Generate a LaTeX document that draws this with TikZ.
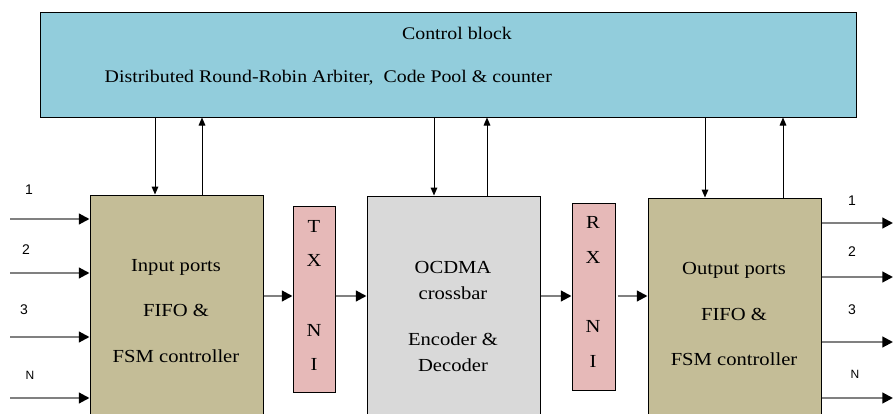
\documentclass[tikz,border=0pt]{standalone}
\usepackage{fontspec}
\setmainfont[FakeStretch=1.12]{Liberation Serif}
\newfontfamily\labelfont{Liberation Sans}
\usetikzlibrary{arrows.meta, positioning, calc}
\definecolor{ctrlblue}{HTML}{92CDDC}
\definecolor{portkhaki}{HTML}{C4BD97}
\definecolor{nipink}{HTML}{E6B9B8}
\definecolor{xbargray}{HTML}{D9D9D9}
\definecolor{wiregray}{HTML}{808080}

\tikzset{
  blockbox/.style={draw=black, line width=0.75pt, inner sep=0pt},
  boxtext/.style={align=center, font=\fontsize{13.8}{14}\selectfont},
  ctl/.style={draw=black, line width=0.75pt, -{Triangle[length=6pt,width=5pt]}},
  wire/.style={draw=wiregray, line width=1.6pt, -{Triangle[length=8pt,width=8pt,color=black]}},
  portlabel/.style={font=\labelfont\fontsize{10.5}{12}\selectfont}
}

\begin{document}
\begin{tikzpicture}[x=0.75pt,y=-0.75pt]
        \clip (0,0) rectangle (893,414);
        \useasboundingbox (0,0) rectangle (893,414);

        % control block
        \node[blockbox, fill=ctrlblue, minimum width=816*0.75pt, minimum height=105*0.75pt] (ctrl) at (448,64.5) {};
        \node[boxtext, font=\fontsize{13.3}{14}\selectfont] (ctrltitle) at (457,33) {Control block};
        \node[boxtext, font=\fontsize{13.3}{14}\selectfont, anchor=west] (ctrlsub) at (100,78) {Distributed Round-Robin Arbiter,~ Code Pool \& counter};

        % main blocks
        \node[blockbox, fill=portkhaki, minimum width=173*0.75pt, minimum height=235*0.75pt] (inp) at (176.5,312.5) {};
        \node[blockbox, fill=nipink, minimum width=42*0.75pt, minimum height=186*0.75pt] (txni) at (314,299) {};
        \node[blockbox, fill=xbargray, minimum width=173*0.75pt, minimum height=234*0.75pt] (xbar) at (453.5,313) {};
        \node[blockbox, fill=nipink, minimum width=43*0.75pt, minimum height=187*0.75pt] (rxni) at (593.5,296.5) {};
        \node[blockbox, fill=portkhaki, minimum width=173*0.75pt, minimum height=232*0.75pt] (outp) at (734.5,314) {};

        % block texts
        \node[boxtext] (inptext) at (176,311) {Input ports\\[20pt]FIFO \&\\[20pt]FSM controller};
        \node[boxtext, font=\fontsize{13.8}{19.5}\selectfont] (xbartext) at (453,316) {OCDMA\\crossbar\\[15pt]Encoder \&\\Decoder};
        \node[boxtext] (outptext) at (734,314) {Output ports\\[20pt]FIFO \&\\[20pt]FSM controller};
        \node[boxtext, font=\fontsize{13.8}{26}\selectfont] (txtext) at (314,295.5) {T\\X\\[26pt]N\\I};
        \node[boxtext, font=\fontsize{13.8}{26}\selectfont] (rxtext) at (593,292) {R\\X\\[26pt]N\\I};

        % control lines
        \coordinate (c1) at (155,0);
        \coordinate (c2) at (202,0);
        \coordinate (c3) at (434,0);
        \coordinate (c4) at (487,0);
        \coordinate (c5) at (705,0);
        \coordinate (c6) at (783,0);
        \draw[ctl] (ctrl.south -| c1) -- (inp.north -| c1);
        \draw[ctl] (inp.north -| c2) -- (ctrl.south -| c2);
        \draw[ctl] (ctrl.south -| c3) -- (xbar.north -| c3);
        \draw[ctl] (xbar.north -| c4) -- (ctrl.south -| c4);
        \draw[ctl] (ctrl.south -| c5) -- (outp.north -| c5);
        \draw[ctl] (outp.north -| c6) -- (ctrl.south -| c6);

        % data path
        \coordinate (mid) at (0,296);
        \draw[wire] (inp.east |- mid) -- (txni.west |- mid);
        \draw[wire] (txni.east |- mid) -- (xbar.west |- mid);
        \draw[wire] (xbar.east |- mid) -- (rxni.west |- mid);
        \draw[wire] ([xshift=1.5pt]rxni.east |- mid) -- (outp.west |- mid);

        % input ports
        \coordinate (in1) at (10,219);
        \coordinate (in2) at (10,273);
        \coordinate (in3) at (10,337);
        \coordinate (inN) at (10,398);
        \draw[wire] (in1) -- (in1 -| inp.west);
        \draw[wire] (in2) -- (in2 -| inp.west);
        \draw[wire] (in3) -- (in3 -| inp.west);
        \draw[wire] (inN) -- (inN -| inp.west);
        \node[portlabel] (lin1) at (29,190) {1};
        \node[portlabel] (lin2) at (26,250) {2};
        \node[portlabel] (lin3) at (24,310) {3};
        \node[portlabel, font=\labelfont\fontsize{9}{12}\selectfont] (linN) at (30,375) {N};

        % output ports
        \coordinate (out1) at (893,223);
        \coordinate (out2) at (893,277);
        \coordinate (out3) at (893,342);
        \coordinate (outN) at (893,398);
        \draw[wire] (out1 -| outp.east) -- (out1);
        \draw[wire] (out2 -| outp.east) -- (out2);
        \draw[wire] (out3 -| outp.east) -- (out3);
        \draw[wire] (outN -| outp.east) -- (outN);
        \node[portlabel] (lout1) at (852,201) {1};
        \node[portlabel] (lout2) at (852,252) {2};
        \node[portlabel] (lout3) at (852,310) {3};
        \node[portlabel, font=\labelfont\fontsize{9}{12}\selectfont] (loutN) at (855,374) {N};

      \end{tikzpicture}
\end{document}
